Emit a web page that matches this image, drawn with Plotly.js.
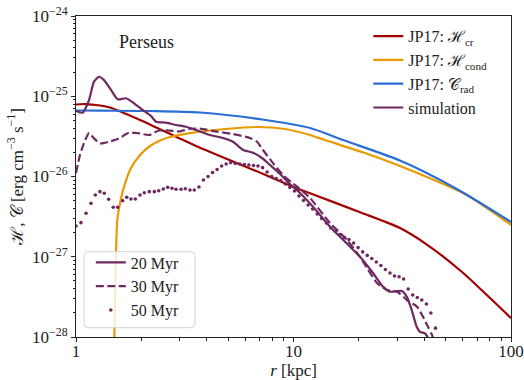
<!DOCTYPE html>
<html>
<head>
<meta charset="utf-8">
<script src="https://cdn.plot.ly/plotly-3.0.1.min.js"></script>
<style>html,body{margin:0;padding:0;background:#fff;}#chart{width:524px;height:380px;}</style>
</head>
<body>
<div id="chart"></div>
<script>
// JP17 model curves
const r_cr = [1, 1.100, 1.289, 1.433, 1.969, 2.883, 3.562, 7.166, 10.16, 11.91, 20.65, 30.88, 41.98, 59.53, 80.09, 100];
const H_cr = [7.89e-26, 8.0e-26, 7.67e-26, 7.24e-26, 5.06e-26, 3.13e-26, 2.40e-26, 1.09e-26, 7.29e-27, 6.18e-27, 3.51e-27, 2.28e-27, 1.36e-27, 6.46e-28, 3.06e-28, 1.72e-28];

const r_cond = [1.487, 1.500, 1.516, 1.527, 1.548, 1.605, 1.662, 1.771, 1.969, 2.189, 2.433, 2.705, 3.343, 4.843, 6.795, 9.14, 11.91, 13.96, 20.65, 30.88, 62.56, 100];
const H_cond = [5.17e-29, 9.72e-29, 4.20e-28, 1.11e-27, 2.87e-27, 5.10e-27, 7.40e-27, 1.205e-26, 1.85e-26, 2.40e-26, 2.81e-26, 3.11e-26, 3.48e-26, 3.91e-26, 4.14e-26, 3.91e-26, 3.29e-26, 2.85e-26, 2.02e-26, 1.35e-26, 5.88e-27, 2.49e-27];

const r_rad = [1, 1.289, 2.189, 3.716, 7.166, 11.91, 16.89, 30.88, 55.27, 100];
const C_rad = [6.64e-26, 6.61e-26, 6.55e-26, 6.27e-26, 5.13e-26, 4.02e-26, 2.85e-26, 1.58e-26, 7.19e-27, 2.71e-27];

// simulation profiles
const r_20 = [1, 1.073, 1.148, 1.210, 1.276, 1.345, 1.448, 1.555, 1.698, 1.848,
  2.026, 2.212, 2.333, 2.593, 2.883, 3.204, 3.562, 4.131, 4.741, 5.270,
  5.861, 6.514, 7.166, 7.798, 8.667, 9.637, 10.71, 12.29, 14.72, 17.56,
  20.22, 23.21, 25.79, 27.78, 31.45, 33.16, 34.95, 36.85, 38.15, 40.22,
  41.52, 43.35];
const H_20 = [6.61e-26, 6.24e-26, 8.98e-26, 1.52e-25, 1.75e-25, 1.59e-25, 1.20e-25, 9.16e-26, 9.43e-26, 8.17e-26,
  6.74e-26, 5.67e-26, 4.82e-26, 4.68e-26, 4.38e-26, 4.17e-26, 3.80e-26, 3.29e-26, 3.02e-26, 2.71e-26,
  2.14e-26, 1.98e-26, 1.70e-26, 1.39e-26, 1.075e-26, 8.06e-27, 6.23e-27, 4.20e-27, 2.37e-27, 1.47e-27,
  1.00e-27, 6.27e-28, 4.24e-28, 3.67e-28, 3.74e-28, 3.18e-28, 2.17e-28, 1.34e-28, 1.16e-28, 1.11e-28,
  9.72e-29, 6.89e-29];

const r_30 = [1, 1.043, 1.088, 1.148, 1.210, 1.289, 1.418, 1.576, 1.752, 1.949,
  2.166, 2.407, 2.677, 2.975, 3.307, 3.716, 4.449, 5.270, 6.310, 6.795,
  7.240, 8.048, 8.946, 10.38, 11.91, 14.72, 17.62, 20.22, 21.78, 24.21,
  26.91, 29.92, 33.25, 36.97, 39.39, 41.52, 43.35, 44.73];
const H_30 = [1.106e-26, 1.85e-26, 2.61e-26, 3.48e-26, 2.99e-26, 2.58e-26, 2.71e-26, 2.99e-26, 3.51e-26, 3.45e-26,
  3.29e-26, 3.74e-26, 3.74e-26, 3.64e-26, 3.91e-26, 3.96e-26, 3.62e-26, 3.38e-26, 3.02e-26, 2.71e-26,
  2.14e-26, 1.47e-26, 1.044e-26, 7.46e-27, 5.40e-27, 2.63e-27, 1.62e-27, 9.93e-28, 7.24e-28, 4.71e-28,
  3.85e-28, 3.67e-28, 2.89e-28, 2.39e-28, 1.79e-28, 1.34e-28, 1.06e-28, 7.95e-29];

const r_50 = [1.000, 1.054, 1.112, 1.172, 1.227, 1.289, 1.349, 1.413, 1.483, 1.555,
  1.640, 1.711, 1.790, 1.874, 1.969, 2.061, 2.173, 2.291, 2.400, 2.520,
  2.640, 2.763, 2.883, 3.040, 3.181, 3.343, 3.499, 3.674, 3.853, 4.046,
  4.243, 4.455, 4.672, 4.905, 5.144, 5.400, 5.664, 5.946, 6.236, 6.547,
  6.867, 7.210, 7.562, 7.940, 8.327, 8.741, 9.169, 9.626, 10.10, 10.60,
  11.12, 11.67, 12.24, 12.85, 13.48, 14.16, 14.84, 15.58, 16.34, 17.16,
  17.99, 18.89, 19.82, 20.81, 21.82, 22.91, 24.03, 25.22, 26.46, 27.78,
  29.13, 30.59, 32.08, 33.68, 35.32, 37.09, 38.90, 40.83, 42.82, 44.96];
const H_50 = [2.42e-27, 2.66e-27, 3.48e-27, 4.63e-27, 5.88e-27, 6.47e-27, 6.18e-27, 5.20e-27, 4.13e-27, 4.13e-27,
  4.99e-27, 5.51e-27, 5.24e-27, 5.24e-27, 5.88e-27, 6.28e-27, 6.47e-27, 6.47e-27, 6.65e-27, 6.99e-27,
  7.33e-27, 7.13e-27, 6.93e-27, 6.93e-27, 7.05e-27, 6.79e-27, 6.79e-27, 7.40e-27, 9.04e-27, 1.00e-26,
  1.12e-26, 1.22e-26, 1.35e-26, 1.43e-26, 1.49e-26, 1.45e-26, 1.43e-26, 1.41e-26, 1.39e-26, 1.37e-26,
  1.35e-26, 1.29e-26, 1.14e-26, 1.00e-26, 9.44e-27, 8.92e-27, 8.06e-27, 7.29e-27, 6.60e-27, 5.71e-27,
  5.02e-27, 4.41e-27, 3.94e-27, 3.41e-27, 3.00e-27, 2.63e-27, 2.28e-27, 2.06e-27, 1.89e-27, 1.74e-27,
  1.64e-27, 1.48e-27, 1.30e-27, 1.15e-27, 1.04e-27, 9.51e-28, 8.60e-28, 7.78e-28, 6.94e-28, 6.27e-28,
  5.75e-28, 5.64e-28, 5.28e-28, 3.96e-28, 3.34e-28, 3.11e-28, 2.89e-28, 2.58e-28, 1.99e-28, 1.29e-28];

const xTickVals = [1, 10, 100];
const xTickText = ['1', '10', '100'];
const yTickVals = [1e-28, 1e-27, 1e-26, 1e-25, 1e-24];
const yTickText = ['10<sup>\u221228</sup>', '10<sup>\u221227</sup>', '10<sup>\u221226</sup>', '10<sup>\u221225</sup>', '10<sup>\u221224</sup>'];

const RED = '#a30000', ORANGE = '#e89a00', BLUE = '#2a6dd6', PURPLE = '#6e2a60';
const FONT = 'Liberation Serif, DejaVu Serif, serif';

function minorVals(lo, hi) {
  const v = [];
  for (let e = lo; e < hi; e++) for (let k = 2; k <= 9; k++) v.push(k * Math.pow(10, e));
  return v;
}

const traces = [
  {x: r_cr, y: H_cr, mode: 'lines', name: 'JP17: \u210B<sub>cr</sub>', legend: 'legend',
   line: {color: RED, width: 2.2, shape: 'spline', smoothing: 0.8}},
  {x: r_cond, y: H_cond, mode: 'lines', name: 'JP17: \u210B<sub>cond</sub>', legend: 'legend',
   line: {color: ORANGE, width: 2.2, shape: 'spline', smoothing: 0.6}},
  {x: r_rad, y: C_rad, mode: 'lines', name: 'JP17: \uD835\uDC9E<sub>rad</sub>', legend: 'legend',
   line: {color: BLUE, width: 2.2, shape: 'spline', smoothing: 0.8}},
  {x: [null], y: [null], mode: 'lines', name: 'simulation', legend: 'legend',
   line: {color: PURPLE, width: 2.2}},
  {x: r_20, y: H_20, mode: 'lines', name: '20 Myr', legend: 'legend2',
   line: {color: PURPLE, width: 2.2, shape: 'spline', smoothing: 0.6}},
  {x: r_30, y: H_30, mode: 'lines', name: '30 Myr', legend: 'legend2',
   line: {color: PURPLE, width: 2.2, dash: '8px,3.5px', shape: 'spline', smoothing: 0.6}},
  {x: r_50, y: H_50, mode: 'markers', name: '50 Myr', legend: 'legend2',
   marker: {color: PURPLE, size: 3.6}}
];

const axisCommon = {
  type: 'log', showgrid: false, zeroline: false, showline: true, linecolor: '#222', linewidth: 1,
  mirror: true, ticks: 'outside', ticklen: 4, tickwidth: 1, tickcolor: '#222',
  tickfont: {family: FONT, size: 17, color: '#222'}, tickmode: 'array'
};

const layout = {
  width: 524, height: 380,
  margin: {l: 76, r: 13, t: 16, b: 43},
  paper_bgcolor: '#fff', plot_bgcolor: '#fff',
  font: {family: FONT, color: '#222'},
  xaxis: Object.assign({}, axisCommon, {
    range: [0, 2], tickvals: xTickVals, ticktext: xTickText, ticklabelstandoff: -5,
    minor: {tickmode: 'array', tickvals: minorVals(0, 2), ticks: 'outside', ticklen: 2.5, tickwidth: 1, tickcolor: '#222'},
    title: {text: '<i>r</i> [kpc]', font: {family: FONT, size: 17, color: '#222'}, standoff: 14}
  }),
  yaxis: Object.assign({}, axisCommon, {
    range: [-28, -24], tickvals: yTickVals, ticktext: yTickText,
    minor: {tickmode: 'array', tickvals: minorVals(-28, -24), ticks: 'outside', ticklen: 2.5, tickwidth: 1, tickcolor: '#222'},
    title: {text: '\u210B, \uD835\uDC9E [erg cm<sup>\u22123</sup> s<sup>\u22121</sup>]', font: {family: FONT, size: 17, color: '#222'}, standoff: 4}
  }),
  legend: {x: 0.672, y: 0.99, xanchor: 'left', yanchor: 'top', bgcolor: 'rgba(0,0,0,0)', borderwidth: 0,
    font: {family: FONT, size: 16, color: '#222'}, traceorder: 'normal'},
  legend2: {x: 0.034, y: 0.285, xanchor: 'left', yanchor: 'top', bgcolor: 'rgba(0,0,0,0)', borderwidth: 0,
    font: {family: FONT, size: 16, color: '#222'}, traceorder: 'normal'},
  shapes: [{
    type: 'path', xref: 'paper', yref: 'paper', layer: 'above',
    path: (function () {
      const x0 = 0.0184, x1 = 0.2736, y0 = 0.029, y1 = 0.2657, rx = 4 / 435, ry = 4 / 321;
      return 'M' + (x0 + rx) + ',' + y1 + ' L' + (x1 - rx) + ',' + y1 + ' Q' + x1 + ',' + y1 + ' ' + x1 + ',' + (y1 - ry) +
        ' L' + x1 + ',' + (y0 + ry) + ' Q' + x1 + ',' + y0 + ' ' + (x1 - rx) + ',' + y0 +
        ' L' + (x0 + rx) + ',' + y0 + ' Q' + x0 + ',' + y0 + ' ' + x0 + ',' + (y0 + ry) +
        ' L' + x0 + ',' + (y1 - ry) + ' Q' + x0 + ',' + y1 + ' ' + (x0 + rx) + ',' + y1 + ' Z';
    })(),
    fillcolor: 'rgba(255,255,255,0.8)', line: {color: '#d4d4d4', width: 1}
  }],
  annotations: [{
    text: 'Perseus', xref: 'paper', yref: 'paper', x: 0.163, y: 0.919, xanchor: 'center', yanchor: 'middle',
    showarrow: false, font: {family: FONT, size: 18, color: '#222'}
  }]
};

Plotly.newPlot('chart', traces, layout, {staticPlot: true, displayModeBar: false});
</script>
</body>
</html>
